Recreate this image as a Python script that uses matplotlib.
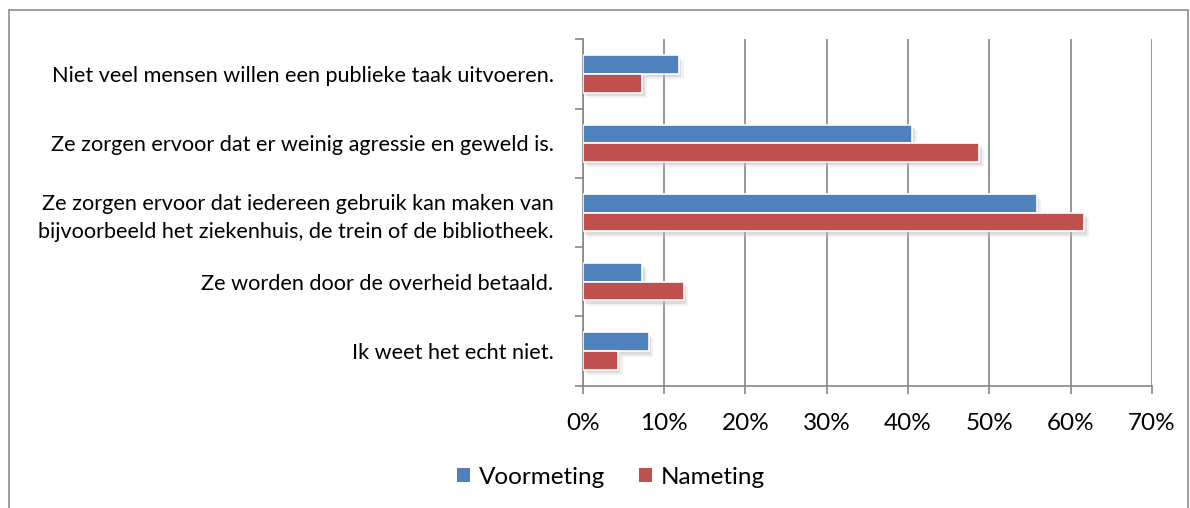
import matplotlib
matplotlib.use("Agg")
import matplotlib.pyplot as plt
import matplotlib.patheffects as pe
from matplotlib.patches import Patch
import numpy as np

categories = [
    "Niet veel mensen willen een publieke taak uitvoeren.",
    "Ze zorgen ervoor dat er weinig agressie en geweld is.",
    "Ze zorgen ervoor dat iedereen gebruik kan maken van\nbijvoorbeeld het ziekenhuis, de trein of de bibliotheek.",
    "Ze worden door de overheid betaald.",
    "Ik weet het echt niet.",
]
voormeting = [11.8, 40.5, 55.8, 7.3, 8.1]
nameting = [7.3, 48.7, 61.7, 12.4, 4.3]
xticks = [0, 10, 20, 30, 40, 50, 60, 70]
xticklabels = ["0%", "10%", "20%", "30%", "40%", "50%", "60%", "70%"]

plt.rcParams['font.family'] = ['Lato', 'DejaVu Sans']

W, H = 1190, 508
fig = plt.figure(figsize=(W / 100, H / 100), dpi=100)
left, right, top, bottom = 582.7, 1152, 39.3, 385.7
ax = fig.add_axes([left / W, 1 - bottom / H, (right - left) / W, (bottom - top) / H])

# outer frame
fig.patches.append(plt.Rectangle((9 / W, -0.01), (1188 - 9) / W, 1 - 10 / H + 0.01,
                                 transform=fig.transFigure, fill=False,
                                 edgecolor='#8c8c8c', linewidth=1.2))

n = len(categories)
y = np.arange(n)
h = 0.27
shadow = [pe.SimplePatchShadow(offset=(2, -2.5), shadow_rgbFace='#b0b0b0', alpha=0.35),
          pe.SimplePatchShadow(offset=(3.5, -4), shadow_rgbFace='#c8c8c8', alpha=0.25),
          pe.Normal()]
colors = ['#4F81BD', '#C0504D']
b1 = ax.barh(y - h / 2, voormeting, height=h, color=colors[0], edgecolor='white',
             linewidth=1.2, zorder=3, path_effects=shadow)
b2 = ax.barh(y + h / 2, nameting, height=h, color=colors[1], edgecolor='white',
             linewidth=1.2, zorder=3, path_effects=shadow)

ax.set_xlim(0, 70)
ax.set_ylim(n - 0.5, -0.5)
ax.set_xticks(xticks)
ax.set_xticklabels(xticklabels, fontsize=17.5)
ax.set_yticks(y)
ax.set_yticklabels(categories, fontsize=15.6, linespacing=1.5)
ax.set_yticks(np.arange(n + 1) - 0.5, minor=True)
ax.tick_params(axis='y', which='major', length=0, pad=21)
ax.tick_params(axis='y', which='minor', length=6, direction='out', color='#868686', width=1.2)
ax.tick_params(axis='x', length=6, direction='out', color='#868686', width=1.2, pad=14)

ax.grid(axis='x', color='#868686', linewidth=1.2, zorder=0)
ax.set_axisbelow(True)
for s in ['top', 'right']:
    ax.spines[s].set_visible(False)
for s in ['left', 'bottom']:
    ax.spines[s].set_color('#868686')
    ax.spines[s].set_linewidth(1.2)

handles = [Patch(facecolor=colors[0]), Patch(facecolor=colors[1])]
fig.legend(handles=handles, labels=['Voormeting', 'Nameting'], loc='center',
           bbox_to_anchor=(611 / W, 1 - 477 / H), ncol=2, frameon=False,
           fontsize=17.5, handlelength=0.55, handleheight=0.55, handletextpad=0.35,
           columnspacing=1.4)

fig.savefig('out.png', dpi=100)
